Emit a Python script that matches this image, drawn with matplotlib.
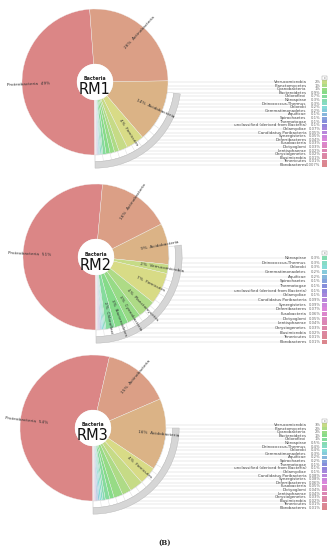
import colorsys
import numpy as np
import matplotlib.pyplot as plt
from matplotlib.patches import Wedge, Circle, Rectangle

W, H = 331, 550
R = 73
R_HOLE = 18

# phylum order used by the chart (defines the colour sweep)
taxa = ["Proteobacteria", "Actinobacteria", "Acidobacteria", "Firmicutes",
        "Verrucomicrobia", "Planctomycetes", "Cyanobacteria", "Bacteroidetes",
        "Chloroflexi", "Nitrospirae", "Deinococcus-Thermus", "Chlorobi",
        "Gemmatimonadetes", "Aquificae", "Spirochaetes", "Thermotogae",
        "unclassified (derived from Bacteria)", "Chlamydiae",
        "Candidatus Poribacteria", "Synergistetes", "Deferribacteres",
        "Fusobacteria", "Dictyoglomi", "Lentisphaerae", "Chrysiogenetes",
        "Elusimicrobia", "Tenericutes", "Fibrobacteres"]
hues = [0, 18, 32, 62, 75, 92, 108, 122, 136, 150, 164, 178, 192, 206, 220,
        234, 248, 262, 275, 288, 300, 311, 320, 328, 335, 342, 349, 355]
color_of = {t: colorsys.hsv_to_rgb(h / 360, 0.39, 0.86) for t, h in zip(taxa, hues)}

small_taxa = taxa[4:]

# RM1
rm1_pie = ["Proteobacteria", "Actinobacteria", "Acidobacteria", "Firmicutes"]
rm1_pie_pct = [49, 26, 14, 4]
rm1_list = small_taxa
rm1_list_pct = [2, 1, 1, 0.9, 0.7, 0.3, 0.3, 0.2, 0.2, 0.1, 0.1, 0.1, 0.1,
                0.07, 0.05, 0.05, 0.04, 0.03, 0.03, 0.02, 0.02, 0.01, 0.01, 0.007]

# RM2
rm2_pie = ["Proteobacteria", "Actinobacteria", "Acidobacteria", "Verrucomicrobia",
           "Firmicutes", "Planctomycetes", "Cyanobacteria", "Bacteroidetes", "Chloroflexi"]
rm2_pie_pct = [51, 16, 9, 2, 7, 4, 3, 3, 2]
rm2_list = taxa[9:]
rm2_list_pct = [0.3, 0.3, 0.3, 0.2, 0.2, 0.1, 0.1, 0.1, 0.1, 0.09, 0.09,
                0.07, 0.06, 0.05, 0.04, 0.03, 0.02, 0.01, 0.01]

# RM3
rm3_pie = ["Proteobacteria", "Actinobacteria", "Acidobacteria", "Firmicutes"]
rm3_pie_pct = [54, 15, 16, 4]
rm3_list = small_taxa
rm3_list_pct = [3, 2, 2, 1, 1, 0.5, 0.4, 0.4, 0.3, 0.2, 0.2, 0.1, 0.1, 0.1,
                0.08, 0.08, 0.06, 0.05, 0.04, 0.04, 0.03, 0.02, 0.01, 0.01]

samples = ["RM1", "RM2", "RM3"]


def draw_panel(ax, sample, pie_names, pie_pct, list_names, list_pct,
               cx, cy, y0, y1, band_a):
    Y = H - cy
    names = pie_names + list_names
    vals = pie_pct + list_pct
    wedges, _ = ax.pie(vals, colors=[color_of[n] for n in names], radius=R,
                       center=(cx, Y), startangle=270, counterclock=False,
                       wedgeprops=dict(width=R - R_HOLE, edgecolor='#f0f0f0',
                                       linewidth=0.25))
    for w in wedges:
        w.set_zorder(2)
    ax.add_patch(Circle((cx, Y), R_HOLE, facecolor='white', edgecolor='none', zorder=2.5))

    # labels inside the pie, running along the radius
    for w, n, v in zip(wedges[:len(pie_names)], pie_names, pie_pct):
        a = (w.theta1 + w.theta2) / 2
        a = (a + 180) % 360 - 180
        t = np.deg2rad(a)
        x = cx + 0.62 * R * np.cos(t)
        y = Y + 0.62 * R * np.sin(t)
        if -90 < a <= 90:
            ax.text(x, y, f"{v}%  {n}", rotation=a, ha='left', va='center',
                    rotation_mode='anchor', fontsize=3.1, color='#333333', zorder=5)
        else:
            ax.text(x, y, f"{n}  {v}%", rotation=a - 180, ha='right', va='center',
                    rotation_mode='anchor', fontsize=3.1, color='#333333', zorder=5)

    # outer band for the small wedges
    ax.add_patch(Wedge((cx, Y), 1.09 * R, -90, band_a, width=0.09 * R,
                       facecolor='white', edgecolor='#cfcfcf', lw=0.3, zorder=3))
    for a in np.arange(-90, band_a - 25, 6):
        t = np.deg2rad(a)
        ax.plot([cx + R * np.cos(t), cx + 1.09 * R * np.cos(t)],
                [Y + R * np.sin(t), Y + 1.09 * R * np.sin(t)],
                color='#d8d8d8', lw=0.3, zorder=3.2)
    ax.add_patch(Wedge((cx, Y), 1.18 * R, -90, band_a, width=0.09 * R,
                       facecolor='#d6d6d6', edgecolor='#b5b5b5', lw=0.3, zorder=3))

    # hole text
    ax.text(cx, Y + 3, "Bacteria", ha='center', va='center', fontsize=3.4,
            weight='bold', color='#222222', zorder=6)
    ax.text(cx, Y - 8, sample, ha='center', va='center', fontsize=10.5,
            color='#111111', zorder=6)

    # list of the small phyla on the right
    ys = H - np.linspace(y0, y1, len(list_names))
    step = (y1 - y0) / (len(list_names) - 1)
    ax.hlines(ys, cx + 1, 300, colors='#d3d3d3', lw=0.35, zorder=1)
    for yy, n, v in zip(ys, list_names, list_pct):
        ax.text(306.5, yy, n, ha='right', va='center', fontsize=2.9,
                color='#4a4a4a', zorder=4)
        ax.text(320.5, yy, f"{v:g}%", ha='right', va='center', fontsize=2.7,
                color='#6a6a6a', zorder=4)
    ax.barh(ys, 4.5, left=322, height=step * 0.85,
            color=[color_of[n] for n in list_names], zorder=4)
    ax.add_patch(Rectangle((321.8, H - y0 + step * 0.6), 5, 4, facecolor='white',
                           edgecolor='#999999', lw=0.3, zorder=4))
    ax.text(324.3, H - y0 + step * 0.6 + 2, "x", ha='center', va='center',
            fontsize=2, color='#666666', zorder=5)


fig = plt.figure(figsize=(W / 100, H / 100), dpi=100)
ax = fig.add_axes([0, 0, 1, 1])

draw_panel(ax, samples[0], rm1_pie, rm1_pie_pct, rm1_list, rm1_list_pct,
           95, 82, 82, 165, -8)
draw_panel(ax, samples[1], rm2_pie, rm2_pie_pct, rm2_list, rm2_list_pct,
           96, 257, 258, 342, 8)
draw_panel(ax, samples[2], rm3_pie, rm3_pie_pct, rm3_list, rm3_list_pct,
           93, 428, 425, 508, 0)

ax.text(165, H - 543, "(B)", ha='center', va='center', fontsize=5,
        family='DejaVu Serif', weight='bold', color='#222222')

ax.set_xlim(0, W)
ax.set_ylim(0, H)
ax.set_aspect('equal')
ax.axis('off')
fig.savefig("out.png", dpi=100, facecolor='white')
